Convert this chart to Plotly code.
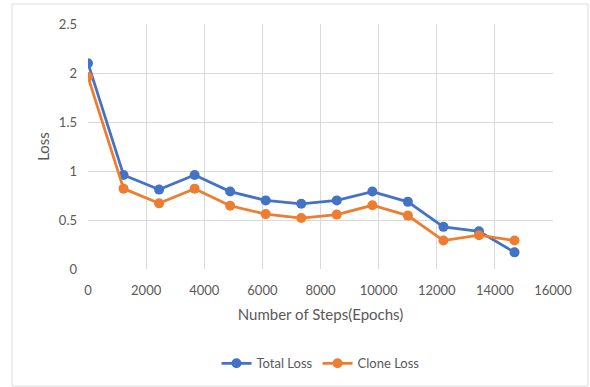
import plotly.graph_objects as go

steps = [0, 1223, 2446, 3669, 4892, 6115, 7338, 8561, 9784, 11007, 12230, 13453, 14676]
total_loss = [2.10, 0.96, 0.81, 0.96, 0.79, 0.70, 0.665, 0.70, 0.79, 0.685, 0.43, 0.385, 0.17]
clone_loss = [1.96, 0.82, 0.67, 0.82, 0.645, 0.56, 0.52, 0.555, 0.65, 0.545, 0.29, 0.345, 0.29]
x_ticks = [0, 2000, 4000, 6000, 8000, 10000, 12000, 14000, 16000]
x_tick_labels = ["0", "2000", "4000", "6000", "8000", "10000", "12000", "14000", "16000"]
y_ticks = [0, 0.5, 1, 1.5, 2, 2.5]
y_tick_labels = ["0", "0.5", "1", "1.5", "2", "2.5"]

W, H = 590, 387
L, R, T, B = 88, 37, 24, 118
pw, ph = W - L - R, H - T - B

fig = go.Figure()
fig.add_trace(go.Scatter(x=steps, y=total_loss, name="Total Loss", mode="lines+markers",
                         line=dict(color="#4472C4", width=2.75), marker=dict(size=10, color="#4472C4")))
fig.add_trace(go.Scatter(x=steps, y=clone_loss, name="Clone Loss", mode="lines+markers",
                         line=dict(color="#ED7D31", width=2.75), marker=dict(size=10, color="#ED7D31")))

font = dict(family="Lato, Open Sans, sans-serif", size=13, color="#595959")
fig.update_layout(
    width=W, height=H,
    margin=dict(l=L, r=R, t=T, b=B, autoexpand=False),
    paper_bgcolor="white", plot_bgcolor="white",
    font=font,
    showlegend=True,
    legend=dict(orientation="h", x=0.5, xanchor="center", y=-0.385, yanchor="middle",
                font=dict(size=13, color="#595959")),
    xaxis=dict(range=[0, 16000], tickvals=x_ticks, ticktext=x_tick_labels, showgrid=True,
               gridcolor="#d9d9d9", gridwidth=1, zeroline=False, showline=False, ticks="",
               ticklabelstandoff=12,
               title=dict(text="Number of Steps(Epochs)", font=dict(size=15, color="#595959"), standoff=12),
               tickfont=dict(size=13, color="#595959")),
    yaxis=dict(range=[0, 2.5], tickvals=y_ticks, ticktext=y_tick_labels, showgrid=True,
               gridcolor="#d9d9d9", gridwidth=1, zeroline=False, showline=False, ticks="",
               ticklabelstandoff=10,
               title=dict(text="Loss", font=dict(size=15, color="#595959"), standoff=5),
               tickfont=dict(size=13, color="#595959")),
    shapes=[dict(type="rect", xref="paper", yref="paper",
                 x0=(12 - L) / pw, x1=(588 - L) / pw,
                 y0=(H - B - 386) / ph, y1=(H - B - 4) / ph,
                 line=dict(color="#dcdcdc", width=1), fillcolor="rgba(0,0,0,0)", layer="below")],
)
fig.write_html("out.html", config={"displayModeBar": False},
               post_script="document.body.style.margin='0';")
